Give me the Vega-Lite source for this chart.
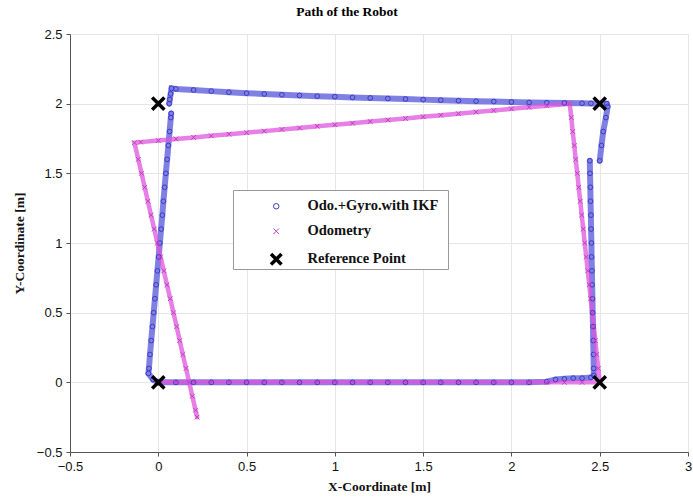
{
  "$schema": "https://vega.github.io/schema/vega-lite/v6.json",
  "width": 618,
  "height": 418,
  "autosize": {"type": "none"},
  "padding": {"left": 70, "top": 34, "right": 5, "bottom": 48},
  "background": "white",
  "title": {"text": "Path of the Robot", "font": "Liberation Serif", "fontSize": 13.5, "fontWeight": "bold", "color": "black", "offset": 10, "dx": -32},
  "config": {
    "view": {"stroke": "#d8d8d8"},
    "axis": {
      "labelFont": "Liberation Sans", "labelFontSize": 13, "labelColor": "#111",
      "titleFont": "Liberation Serif", "titleFontSize": 13.5, "titleFontWeight": "bold", "titleColor": "#111",
      "domainColor": "#555", "tickColor": "#555", "tickSize": 4,
      "gridColor": "#e6e6e6", "labelFlush": false, "format": "~g"
    },
    "legend": {
      "orient": "none", "padding": 9,
      "labelFont": "Liberation Serif", "labelFontSize": 14.5, "labelFontWeight": "bold", "labelColor": "#111",
      "symbolOffset": 27, "labelOffset": 24, "rowPadding": 10, "labelLimit": 300
    }
  },
  "resolve": {"scale": {"color": "independent", "shape": "independent"}, "legend": {"color": "independent", "shape": "independent"}},
  "datasets": {
    "path": [
      {"s":"b","g":1,"x":0,"y":0},{"s":"b","g":1,"x":0.1,"y":0},{"s":"b","g":1,"x":0.2,"y":0},{"s":"b","g":1,"x":0.3,"y":0},{"s":"b","g":1,"x":0.4,"y":0},{"s":"b","g":1,"x":0.5,"y":0},{"s":"b","g":1,"x":0.6,"y":0},{"s":"b","g":1,"x":0.7,"y":0},{"s":"b","g":1,"x":0.8,"y":0},{"s":"b","g":1,"x":0.9,"y":0},{"s":"b","g":1,"x":1.0,"y":0},{"s":"b","g":1,"x":1.1,"y":0},{"s":"b","g":1,"x":1.2,"y":0},{"s":"b","g":1,"x":1.3,"y":0},{"s":"b","g":1,"x":1.4,"y":0},{"s":"b","g":1,"x":1.5,"y":0},{"s":"b","g":1,"x":1.6,"y":0},{"s":"b","g":1,"x":1.7,"y":0},{"s":"b","g":1,"x":1.8,"y":0},{"s":"b","g":1,"x":1.9,"y":0},{"s":"b","g":1,"x":2.0,"y":0},{"s":"b","g":1,"x":2.1,"y":0},{"s":"b","g":1,"x":2.2,"y":0.005},{"s":"b","g":1,"x":2.25,"y":0.02},{"s":"b","g":1,"x":2.3,"y":0.025},{"s":"b","g":1,"x":2.35,"y":0.03},{"s":"b","g":1,"x":2.4,"y":0.03},{"s":"b","g":1,"x":2.45,"y":0.035},{"s":"b","g":1,"x":2.467,"y":0.05},
      {"s":"b","g":1,"x":2.466,"y":0.1},{"s":"b","g":1,"x":2.465,"y":0.2},{"s":"b","g":1,"x":2.463,"y":0.3},{"s":"b","g":1,"x":2.462,"y":0.4},{"s":"b","g":1,"x":2.46,"y":0.5},{"s":"b","g":1,"x":2.459,"y":0.6},{"s":"b","g":1,"x":2.457,"y":0.7},{"s":"b","g":1,"x":2.456,"y":0.8},{"s":"b","g":1,"x":2.454,"y":0.9},{"s":"b","g":1,"x":2.453,"y":1.0},{"s":"b","g":1,"x":2.451,"y":1.1},{"s":"b","g":1,"x":2.45,"y":1.2},{"s":"b","g":1,"x":2.448,"y":1.3},{"s":"b","g":1,"x":2.447,"y":1.4},{"s":"b","g":1,"x":2.445,"y":1.5},{"s":"b","g":1,"x":2.444,"y":1.59},
      {"s":"b","g":2,"x":2.5,"y":1.59},{"s":"b","g":2,"x":2.51,"y":1.7},{"s":"b","g":2,"x":2.52,"y":1.8},{"s":"b","g":2,"x":2.535,"y":1.9},{"s":"b","g":2,"x":2.545,"y":1.98},{"s":"b","g":2,"x":2.54,"y":2.0},{"s":"b","g":2,"x":2.45,"y":2.002},{"s":"b","g":2,"x":2.4,"y":2.003},{"s":"b","g":2,"x":2.3,"y":2.005},{"s":"b","g":2,"x":2.2,"y":2.007},{"s":"b","g":2,"x":2.1,"y":2.009},{"s":"b","g":2,"x":2.0,"y":2.012},{"s":"b","g":2,"x":1.9,"y":2.015},{"s":"b","g":2,"x":1.8,"y":2.018},{"s":"b","g":2,"x":1.7,"y":2.021},{"s":"b","g":2,"x":1.6,"y":2.025},{"s":"b","g":2,"x":1.5,"y":2.029},{"s":"b","g":2,"x":1.4,"y":2.033},{"s":"b","g":2,"x":1.3,"y":2.037},{"s":"b","g":2,"x":1.2,"y":2.041},{"s":"b","g":2,"x":1.1,"y":2.045},{"s":"b","g":2,"x":1.0,"y":2.05},{"s":"b","g":2,"x":0.9,"y":2.054},{"s":"b","g":2,"x":0.8,"y":2.059},{"s":"b","g":2,"x":0.7,"y":2.064},{"s":"b","g":2,"x":0.6,"y":2.07},{"s":"b","g":2,"x":0.5,"y":2.075},{"s":"b","g":2,"x":0.4,"y":2.082},{"s":"b","g":2,"x":0.3,"y":2.09},{"s":"b","g":2,"x":0.2,"y":2.098},{"s":"b","g":2,"x":0.1,"y":2.106},{"s":"b","g":2,"x":0.075,"y":2.11},{"s":"b","g":2,"x":0.07,"y":2.07},{"s":"b","g":2,"x":0.065,"y":2.03},{"s":"b","g":2,"x":0.062,"y":2.0},
      {"s":"b","g":3,"x":0.073,"y":1.93},{"s":"b","g":3,"x":0.071,"y":1.9},{"s":"b","g":3,"x":0.064,"y":1.8},{"s":"b","g":3,"x":0.057,"y":1.7},{"s":"b","g":3,"x":0.05,"y":1.6},{"s":"b","g":3,"x":0.043,"y":1.5},{"s":"b","g":3,"x":0.036,"y":1.4},{"s":"b","g":3,"x":0.029,"y":1.3},{"s":"b","g":3,"x":0.023,"y":1.2},{"s":"b","g":3,"x":0.016,"y":1.1},{"s":"b","g":3,"x":0.009,"y":1.0},{"s":"b","g":3,"x":0.002,"y":0.9},{"s":"b","g":3,"x":-0.005,"y":0.8},{"s":"b","g":3,"x":-0.012,"y":0.7},{"s":"b","g":3,"x":-0.019,"y":0.6},{"s":"b","g":3,"x":-0.026,"y":0.5},{"s":"b","g":3,"x":-0.033,"y":0.4},{"s":"b","g":3,"x":-0.04,"y":0.3},{"s":"b","g":3,"x":-0.047,"y":0.2},{"s":"b","g":3,"x":-0.053,"y":0.1},{"s":"b","g":3,"x":-0.056,"y":0.064},{"s":"b","g":3,"x":-0.03,"y":0.02},{"s":"b","g":3,"x":0,"y":0},
      {"s":"m","g":4,"x":0,"y":0},{"s":"m","g":4,"x":0.1,"y":0},{"s":"m","g":4,"x":0.2,"y":0},{"s":"m","g":4,"x":0.3,"y":0},{"s":"m","g":4,"x":0.4,"y":0},{"s":"m","g":4,"x":0.5,"y":0},{"s":"m","g":4,"x":0.6,"y":0},{"s":"m","g":4,"x":0.7,"y":0},{"s":"m","g":4,"x":0.8,"y":0},{"s":"m","g":4,"x":0.9,"y":0},{"s":"m","g":4,"x":1.0,"y":0},{"s":"m","g":4,"x":1.1,"y":0},{"s":"m","g":4,"x":1.2,"y":0},{"s":"m","g":4,"x":1.3,"y":0},{"s":"m","g":4,"x":1.4,"y":0},{"s":"m","g":4,"x":1.5,"y":0},{"s":"m","g":4,"x":1.6,"y":0},{"s":"m","g":4,"x":1.7,"y":0},{"s":"m","g":4,"x":1.8,"y":0},{"s":"m","g":4,"x":1.9,"y":0},{"s":"m","g":4,"x":2.0,"y":0},{"s":"m","g":4,"x":2.1,"y":0},{"s":"m","g":4,"x":2.2,"y":0},{"s":"m","g":4,"x":2.3,"y":0},{"s":"m","g":4,"x":2.4,"y":0},{"s":"m","g":4,"x":2.5,"y":0},
      {"s":"m","g":4,"x":2.492,"y":0.1},{"s":"m","g":4,"x":2.483,"y":0.2},{"s":"m","g":4,"x":2.475,"y":0.3},{"s":"m","g":4,"x":2.466,"y":0.4},{"s":"m","g":4,"x":2.458,"y":0.5},{"s":"m","g":4,"x":2.449,"y":0.6},{"s":"m","g":4,"x":2.441,"y":0.7},{"s":"m","g":4,"x":2.432,"y":0.8},{"s":"m","g":4,"x":2.424,"y":0.9},{"s":"m","g":4,"x":2.415,"y":1.0},{"s":"m","g":4,"x":2.407,"y":1.1},{"s":"m","g":4,"x":2.398,"y":1.2},{"s":"m","g":4,"x":2.39,"y":1.3},{"s":"m","g":4,"x":2.381,"y":1.4},{"s":"m","g":4,"x":2.373,"y":1.5},{"s":"m","g":4,"x":2.364,"y":1.6},{"s":"m","g":4,"x":2.356,"y":1.7},{"s":"m","g":4,"x":2.347,"y":1.8},{"s":"m","g":4,"x":2.339,"y":1.9},{"s":"m","g":4,"x":2.33,"y":2.0},
      {"s":"m","g":4,"x":2.2,"y":1.985},{"s":"m","g":4,"x":2.1,"y":1.974},{"s":"m","g":4,"x":2.0,"y":1.963},{"s":"m","g":4,"x":1.9,"y":1.951},{"s":"m","g":4,"x":1.8,"y":1.94},{"s":"m","g":4,"x":1.7,"y":1.928},{"s":"m","g":4,"x":1.6,"y":1.917},{"s":"m","g":4,"x":1.5,"y":1.906},{"s":"m","g":4,"x":1.4,"y":1.894},{"s":"m","g":4,"x":1.3,"y":1.883},{"s":"m","g":4,"x":1.2,"y":1.872},{"s":"m","g":4,"x":1.1,"y":1.86},{"s":"m","g":4,"x":1.0,"y":1.849},{"s":"m","g":4,"x":0.9,"y":1.838},{"s":"m","g":4,"x":0.8,"y":1.826},{"s":"m","g":4,"x":0.7,"y":1.815},{"s":"m","g":4,"x":0.6,"y":1.803},{"s":"m","g":4,"x":0.5,"y":1.792},{"s":"m","g":4,"x":0.4,"y":1.781},{"s":"m","g":4,"x":0.3,"y":1.769},{"s":"m","g":4,"x":0.2,"y":1.758},{"s":"m","g":4,"x":0.1,"y":1.747},{"s":"m","g":4,"x":0.0,"y":1.735},{"s":"m","g":4,"x":-0.1,"y":1.724},{"s":"m","g":4,"x":-0.135,"y":1.72},
      {"s":"m","g":4,"x":-0.113,"y":1.6},{"s":"m","g":4,"x":-0.095,"y":1.5},{"s":"m","g":4,"x":-0.077,"y":1.4},{"s":"m","g":4,"x":-0.059,"y":1.3},{"s":"m","g":4,"x":-0.041,"y":1.2},{"s":"m","g":4,"x":-0.023,"y":1.1},{"s":"m","g":4,"x":-0.005,"y":1.0},{"s":"m","g":4,"x":0.013,"y":0.9},{"s":"m","g":4,"x":0.031,"y":0.8},{"s":"m","g":4,"x":0.049,"y":0.7},{"s":"m","g":4,"x":0.068,"y":0.6},{"s":"m","g":4,"x":0.086,"y":0.5},{"s":"m","g":4,"x":0.104,"y":0.4},{"s":"m","g":4,"x":0.121,"y":0.3},{"s":"m","g":4,"x":0.139,"y":0.2},{"s":"m","g":4,"x":0.157,"y":0.1},{"s":"m","g":4,"x":0.175,"y":0.0},{"s":"m","g":4,"x":0.193,"y":-0.1},{"s":"m","g":4,"x":0.211,"y":-0.2},{"s":"m","g":4,"x":0.22,"y":-0.25},
      {"s":"r","g":5,"x":0,"y":0},{"s":"r","g":6,"x":0,"y":2},{"s":"r","g":7,"x":2.5,"y":2},{"s":"r","g":8,"x":2.5,"y":0}
    ]
  },
  "data": {"name": "path"},
  "encoding": {
    "x": {"field": "x", "type": "quantitative", "scale": {"domain": [-0.5, 3], "nice": false, "zero": false},
      "axis": {"values": [-0.5, 0, 0.5, 1, 1.5, 2, 2.5, 3], "title": "X-Coordinate [m]", "labelPadding": 4, "titlePadding": 6}},
    "y": {"field": "y", "type": "quantitative", "scale": {"domain": [-0.5, 2.5], "nice": false, "zero": false},
      "axis": {"values": [-0.5, 0, 0.5, 1, 1.5, 2, 2.5], "title": "Y-Coordinate [m]", "labelPadding": 4, "titlePadding": 10}}
  },
  "layer": [
    {
      "transform": [{"filter": "datum.s == 'b'"}],
      "mark": {"type": "line", "color": "#6a6ade", "strokeWidth": 6, "opacity": 0.85, "strokeCap": "round"},
      "encoding": {"detail": {"field": "g", "type": "nominal"}, "order": {"value": null}}
    },
    {
      "transform": [{"filter": "datum.s == 'm'"}],
      "mark": {"type": "line", "color": "#dd55dd", "strokeWidth": 4.5, "opacity": 0.75, "strokeCap": "round"},
      "encoding": {"detail": {"field": "g", "type": "nominal"}, "order": {"value": null}}
    },
    {
      "transform": [{"filter": "datum.s != 'r'"}],
      "mark": {"type": "point", "filled": false, "opacity": 1, "size": 22, "strokeWidth": 1},
      "encoding": {
        "color": {"field": "s", "type": "nominal",
          "scale": {"domain": ["b", "m"], "range": ["#3a3ac8", "#c040c0"]},
          "legend": {
            "labelExpr": "datum.label == 'b' ? 'Odo.+Gyro.with IKF' : 'Odometry'",
            "legendX": 163, "legendY": 156, "fillColor": "white", "strokeColor": "#999",
            "title": " ", "titleOrient": "bottom", "titleFontSize": 14, "titlePadding": 8,
            "symbolSize": 30, "symbolStrokeWidth": 1
          }},
        "shape": {"field": "s", "type": "nominal",
          "scale": {"domain": ["b", "m"], "range": ["circle", "M-1,-1L1,1M-1,1L1,-1"]},
          "legend": {
            "labelExpr": "datum.label == 'b' ? 'Odo.+Gyro.with IKF' : 'Odometry'",
            "legendX": 163, "legendY": 156, "fillColor": "white", "strokeColor": "#999",
            "title": " ", "titleOrient": "bottom", "titleFontSize": 14, "titlePadding": 8,
            "symbolSize": 30, "symbolStrokeWidth": 1
          }}
      }
    },
    {
      "transform": [{"filter": "datum.s == 'r'"}],
      "mark": {"type": "point", "filled": false, "opacity": 1, "size": 150, "strokeWidth": 3.5},
      "encoding": {
        "color": {"field": "s", "type": "nominal",
          "scale": {"domain": ["r"], "range": ["#000000"]},
          "legend": {
            "labelExpr": "'Reference Point'",
            "legendX": 163, "legendY": 209, "title": null,
            "symbolSize": 110, "symbolStrokeWidth": 3.5
          }},
        "shape": {"field": "s", "type": "nominal",
          "scale": {"domain": ["r"], "range": ["M-1,-1L1,1M-1,1L1,-1"]},
          "legend": {
            "labelExpr": "'Reference Point'",
            "legendX": 163, "legendY": 209, "title": null,
            "symbolSize": 110, "symbolStrokeWidth": 3.5
          }}
      }
    }
  ]
}
